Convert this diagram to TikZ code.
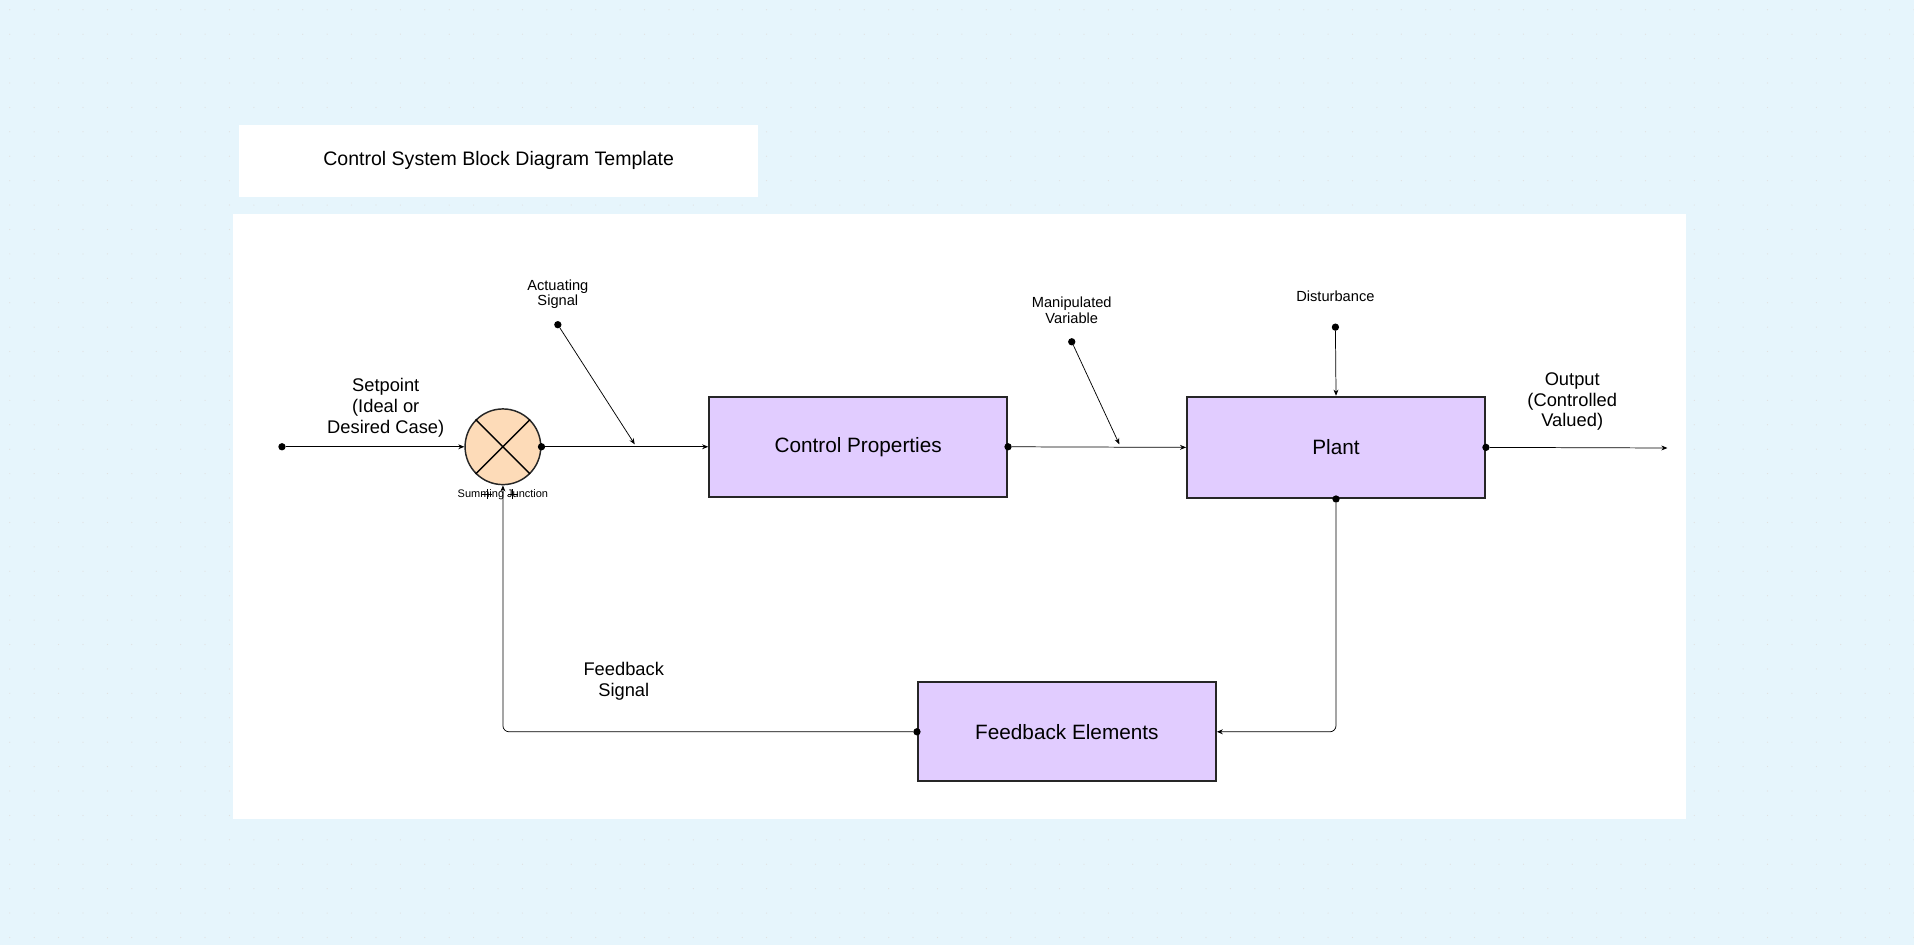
\documentclass[tikz,border=0pt]{standalone}
\usepackage{fontspec}
\setmainfont{Liberation Sans}
\usetikzlibrary{arrows.meta}
\definecolor{bgc}{HTML}{E6F5FC}
\definecolor{blk}{HTML}{E1CCFF}
\definecolor{peach}{HTML}{FDDBB8}
\begin{document}
\begin{tikzpicture}[x=1pt,y=-1pt,
 blockbox/.style={draw=black!85,line width=1.6pt,fill=blk,minimum width=244pt,minimum height=82pt,font=\fontsize{17}{20}\selectfont},
 lbl/.style={align=center,font=\fontsize{15}{17}\selectfont},
 slbl/.style={align=center,font=\fontsize{12}{13}\selectfont},
 conn/.style={-{Stealth[length=5pt,width=4pt]},line width=0.6pt},
 dotc/.style={circle,fill=black,inner sep=0pt,minimum size=6pt}]
\fill[bgc] (0,0) rectangle (1568,774);
\useasboundingbox (0,0) rectangle (1568,774);
\foreach \i in {0,...,78}{\foreach \j in {0,...,38}{\fill[black!12] (\i*20+8,\j*20+8) circle (0.5pt);}}
\node[fill=white,minimum width=425pt,minimum height=59pt,font=\fontsize{16}{19}\selectfont] (title) at (408.5,131.5) {Control System Block Diagram Template};
\fill[white] (191,175) rectangle (1381,671);
% nodes
\node[dotc] (sp) at (231,366) {};
\node[circle,draw=black!85,line width=1.2pt,fill=peach,minimum size=62pt,inner sep=0pt] (sum) at (412,366) {};
\draw[line width=1.2pt] (sum.45) -- (sum.225) (sum.135) -- (sum.-45);
\node[dotc] (sumo) at (sum.east) {};
\node[font=\fontsize{9}{10}\selectfont] (sumlbl) at (412,405) {Summing Junction};
\draw[line width=0.6pt] (399,401)--(399,409) (395,405)--(403,405) (420,401)--(420,409) (416,405)--(424,405);
\node[blockbox] (cp) at (703,366) {Control Properties};
\node[blockbox,minimum height=83pt] (plant) at (1094.5,366.5) {Plant};
\node[blockbox,minimum height=81pt] (fb) at (874,599.5) {Feedback Elements};
\node[dotc] (cpo) at (cp.east) {};
\node[dotc] (plo) at (plant.east) {};
\node[dotc] (plb) at (plant.south) {};
\node[dotc] (fbo) at (fb.west) {};
\node[dotc] (act) at (457,266) {};
\node[dotc] (man) at (878,280) {};
\node[dotc] (dist) at (1094,268) {};
\coordinate (acte) at (520,364);
\coordinate (mane) at (917,364);
\coordinate (out) at (1366,367);
% labels
\node[lbl] (spl) at (316,334) {Setpoint\\(Ideal or\\Desired Case)};
\node[slbl] (actl) at (457,241) {Actuating\\Signal};
\node[slbl] (manl) at (878,254) {Manipulated\\Variable};
\node[slbl] (distl) at (1094,243) {Disturbance};
\node[lbl] (outl) at (1288,329) {Output\\(Controlled\\Valued)};
\node[lbl] (fbl) at (511,558) {Feedback\\Signal};
% connectors
\draw[conn] (sp) -- (sum.west);
\draw[conn] (sumo) -- (cp.west);
\draw[conn] (act) -- (acte);
\draw[conn] (cpo) -- (plant.west);
\draw[conn] (man) -- (mane);
\draw[conn] (dist) -- (plant.north);
\draw[conn] (plo) -- (out);
\draw[conn,rounded corners=5pt] (plb) |- (fb.east);
\draw[conn,rounded corners=5pt] (fbo) -| (sum.south);
\end{tikzpicture}
\end{document}
